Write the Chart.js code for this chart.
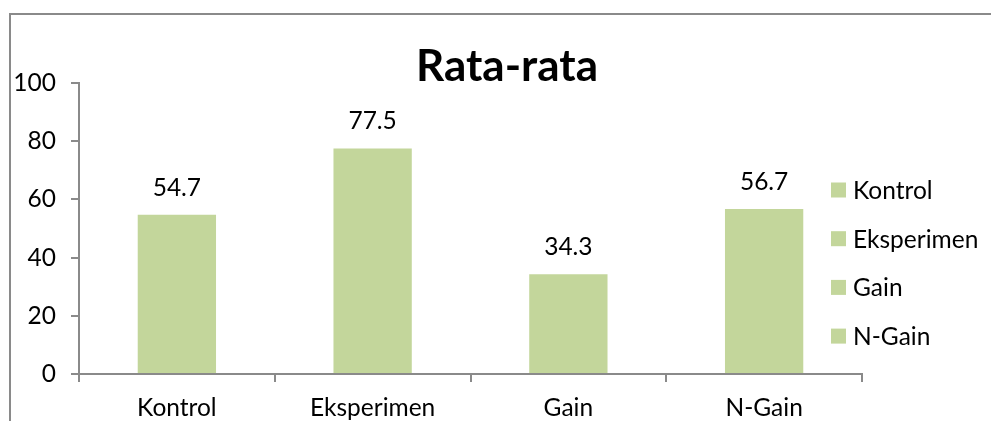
<!DOCTYPE html>
<html>
<head>
<meta charset="utf-8">
<script src="https://cdn.jsdelivr.net/npm/chart.js@4.4.1/dist/chart.umd.min.js"></script>
<style>
  html, body { margin: 0; padding: 0; background: #fff; }
  #wrap { position: relative; width: 991px; height: 421px; }
</style>
</head>
<body>
<div id="wrap"><canvas id="chart" width="991" height="421"></canvas></div>
<script>
// data
const categories = ['Kontrol', 'Eksperimen', 'Gain', 'N-Gain'];
const values = [54.7, 77.5, 34.3, 56.7];
const yTicks = [0, 20, 40, 60, 80, 100];
const chartTitle = 'Rata-rata';

const barColor = '#C3D69B';
const axisColor = '#8a8a8a';
const FONT = 'Lato, Carlito, "Open Sans", sans-serif';
const TXT = 24.5;

// frame, title, value labels and legend
const decorations = {
    id: 'decorations',
    beforeDraw(chart) {
        const c = chart.ctx;
        c.save();
        c.fillStyle = '#fff';
        c.fillRect(0, 0, chart.width, chart.height);
        c.strokeStyle = axisColor;
        c.lineWidth = 2;
        c.strokeRect(10, 14, 1400, 900);
        c.restore();
    },
    afterDatasetsDraw(chart) {
        const c = chart.ctx;
        c.save();
        // title
        c.font = 'bold 44px ' + FONT;
        c.fillStyle = '#000';
        c.textAlign = 'center';
        c.textBaseline = 'middle';
        c.fillText(chartTitle, 507, 67);

        // value labels
        c.font = TXT + 'px ' + FONT;
        const meta = chart.getDatasetMeta(0);
        meta.data.forEach((bar, i) => {
            c.fillText(values[i].toFixed(1), bar.x, bar.y - 27);
        });

        // legend (every category shares the bar colour)
        c.textAlign = 'left';
        categories.forEach((name, i) => {
            const y = 190 + i * 48.7;
            c.fillStyle = barColor;
            c.fillRect(831, y - 7.5, 15, 15);
            c.fillStyle = '#000';
            c.fillText(name, 853, y + 1);
        });
        c.restore();
    }
};

new Chart(document.getElementById('chart'), {
    type: 'bar',
    data: {
        labels: categories,
        datasets: [{
            label: chartTitle,
            data: values,
            backgroundColor: barColor,
            borderWidth: 0,
            categoryPercentage: 1,
            barPercentage: 0.4
        }]
    },
    options: {
        responsive: false,
        animation: false,
        layout: { padding: { top: 83, left: 0, right: 129, bottom: 0 } },
        plugins: {
            legend: { display: false },
            title: { display: false },
            tooltip: { enabled: false }
        },
        scales: {
            x: {
                grid: { display: true, drawOnChartArea: false, drawTicks: true, tickLength: 8, color: axisColor, lineWidth: 2, offset: true },
                border: { display: true, color: axisColor, width: 2 },
                ticks: { color: '#000', font: { family: FONT, size: TXT }, padding: 11, maxRotation: 0 },
                afterFit(s) { s.height = 47; }
            },
            y: {
                min: yTicks[0],
                max: yTicks[yTicks.length - 1],
                afterBuildTicks(s) { s.ticks = yTicks.map(v => ({ value: v })); },
                grid: { display: true, drawOnChartArea: false, drawTicks: true, tickLength: 8, color: axisColor, lineWidth: 2 },
                border: { display: true, color: axisColor, width: 2 },
                ticks: { color: '#000', font: { family: FONT, size: TXT }, padding: 15 },
                afterFit(s) { s.width = 79; }
            }
        }
    },
    plugins: [decorations]
});
</script>
</body>
</html>
